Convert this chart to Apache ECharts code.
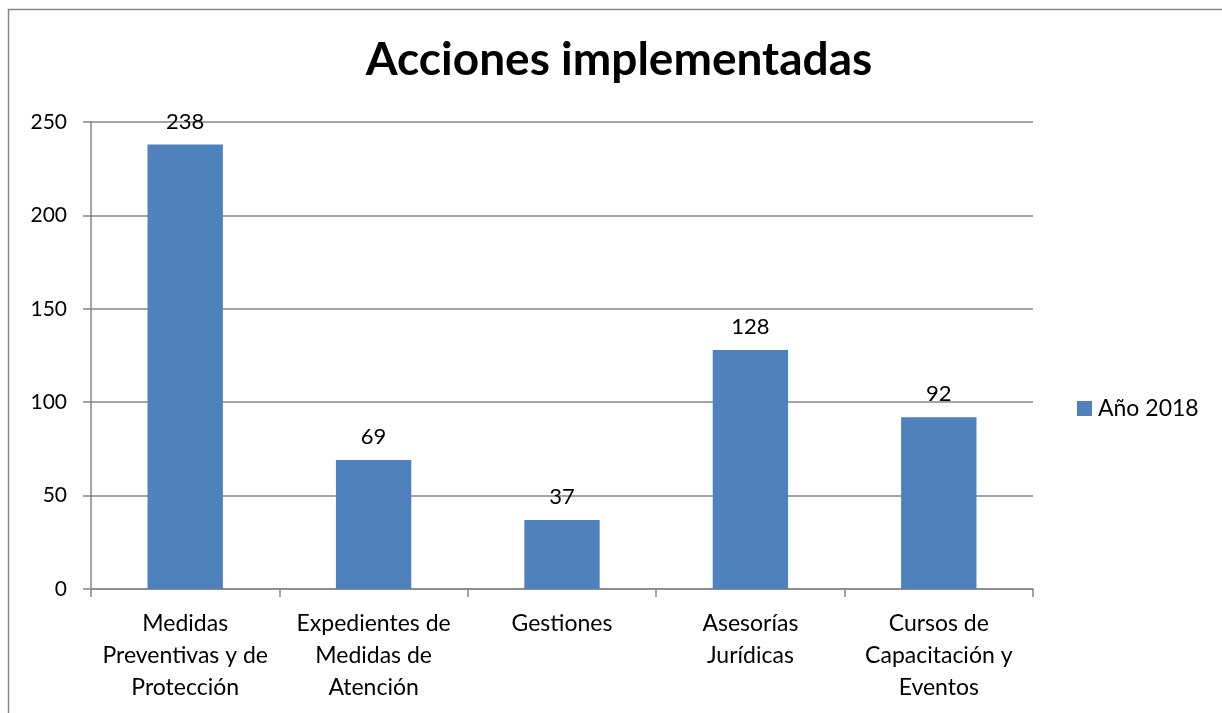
<!DOCTYPE html>
<html><head><meta charset="utf-8">
<script src="https://cdn.jsdelivr.net/npm/echarts@6/dist/echarts.min.js"></script>
<style>html,body{margin:0;padding:0;background:#fff}#c{width:1222px;height:713px}</style>
</head><body><div id="c"></div>
<script>
const categories = ['Medidas\nPreventivas y de\nProtección', 'Expedientes de\nMedidas de\nAtención', 'Gestiones', 'Asesorías\nJurídicas', 'Cursos de\nCapacitación y\nEventos'];
const seriesName = 'Año 2018';
const values = [238, 69, 37, 128, 92];
const titleText = 'Acciones implementadas';

const chart = echarts.init(document.getElementById('c'));
const FONT = 'Lato, "Open Sans", sans-serif';
chart.setOption({
  animation: false,
  textStyle: { fontFamily: FONT },
  graphic: [{ type: 'rect', shape: { x: 8.5, y: 9.5, width: 1300, height: 800 }, style: { fill: null, stroke: '#868686', lineWidth: 1.5 }, z: -1 }],
  title: { text: titleText, left: 614, textAlign: 'center', top: 32, textStyle: { fontFamily: FONT, fontSize: 46, fontWeight: 'bold', color: '#000' } },
  legend: { orient: 'vertical', left: 1077, top: 397, padding: 0, itemWidth: 15, itemHeight: 15, itemGap: 8, icon: 'rect', textStyle: { fontFamily: FONT, fontSize: 23, color: '#000', padding: [0, 0, 0, 1] }, data: [seriesName] },
  grid: { left: 91, top: 122, right: 189, bottom: 124, containLabel: false },
  xAxis: { type: 'category', data: categories,
    axisLine: { lineStyle: { color: '#868686', width: 1.5 } },
    axisTick: { show: true, length: 8, alignWithLabel: false, lineStyle: { color: '#868686', width: 1.5 } },
    axisLabel: { interval: 0, margin: 19, fontFamily: FONT, fontSize: 23, lineHeight: 32, color: '#000' } },
  yAxis: { type: 'value', min: 0, max: 250, interval: 50,
    axisLine: { show: true, lineStyle: { color: '#868686', width: 1.5 } },
    axisTick: { show: true, length: 8, inside: false, lineStyle: { color: '#868686', width: 1.5 } },
    splitLine: { lineStyle: { color: '#868686', width: 1.5 } },
    axisLabel: { margin: 24, fontFamily: FONT, fontSize: 21, color: '#000' } },
  series: [{ name: seriesName, type: 'bar', data: values, barCategoryGap: '60%',
    itemStyle: { color: '#4f81bd' },
    label: { show: true, position: 'top', distance: 12, fontFamily: FONT, fontSize: 22, color: '#000' } }]
});
</script></body></html>
